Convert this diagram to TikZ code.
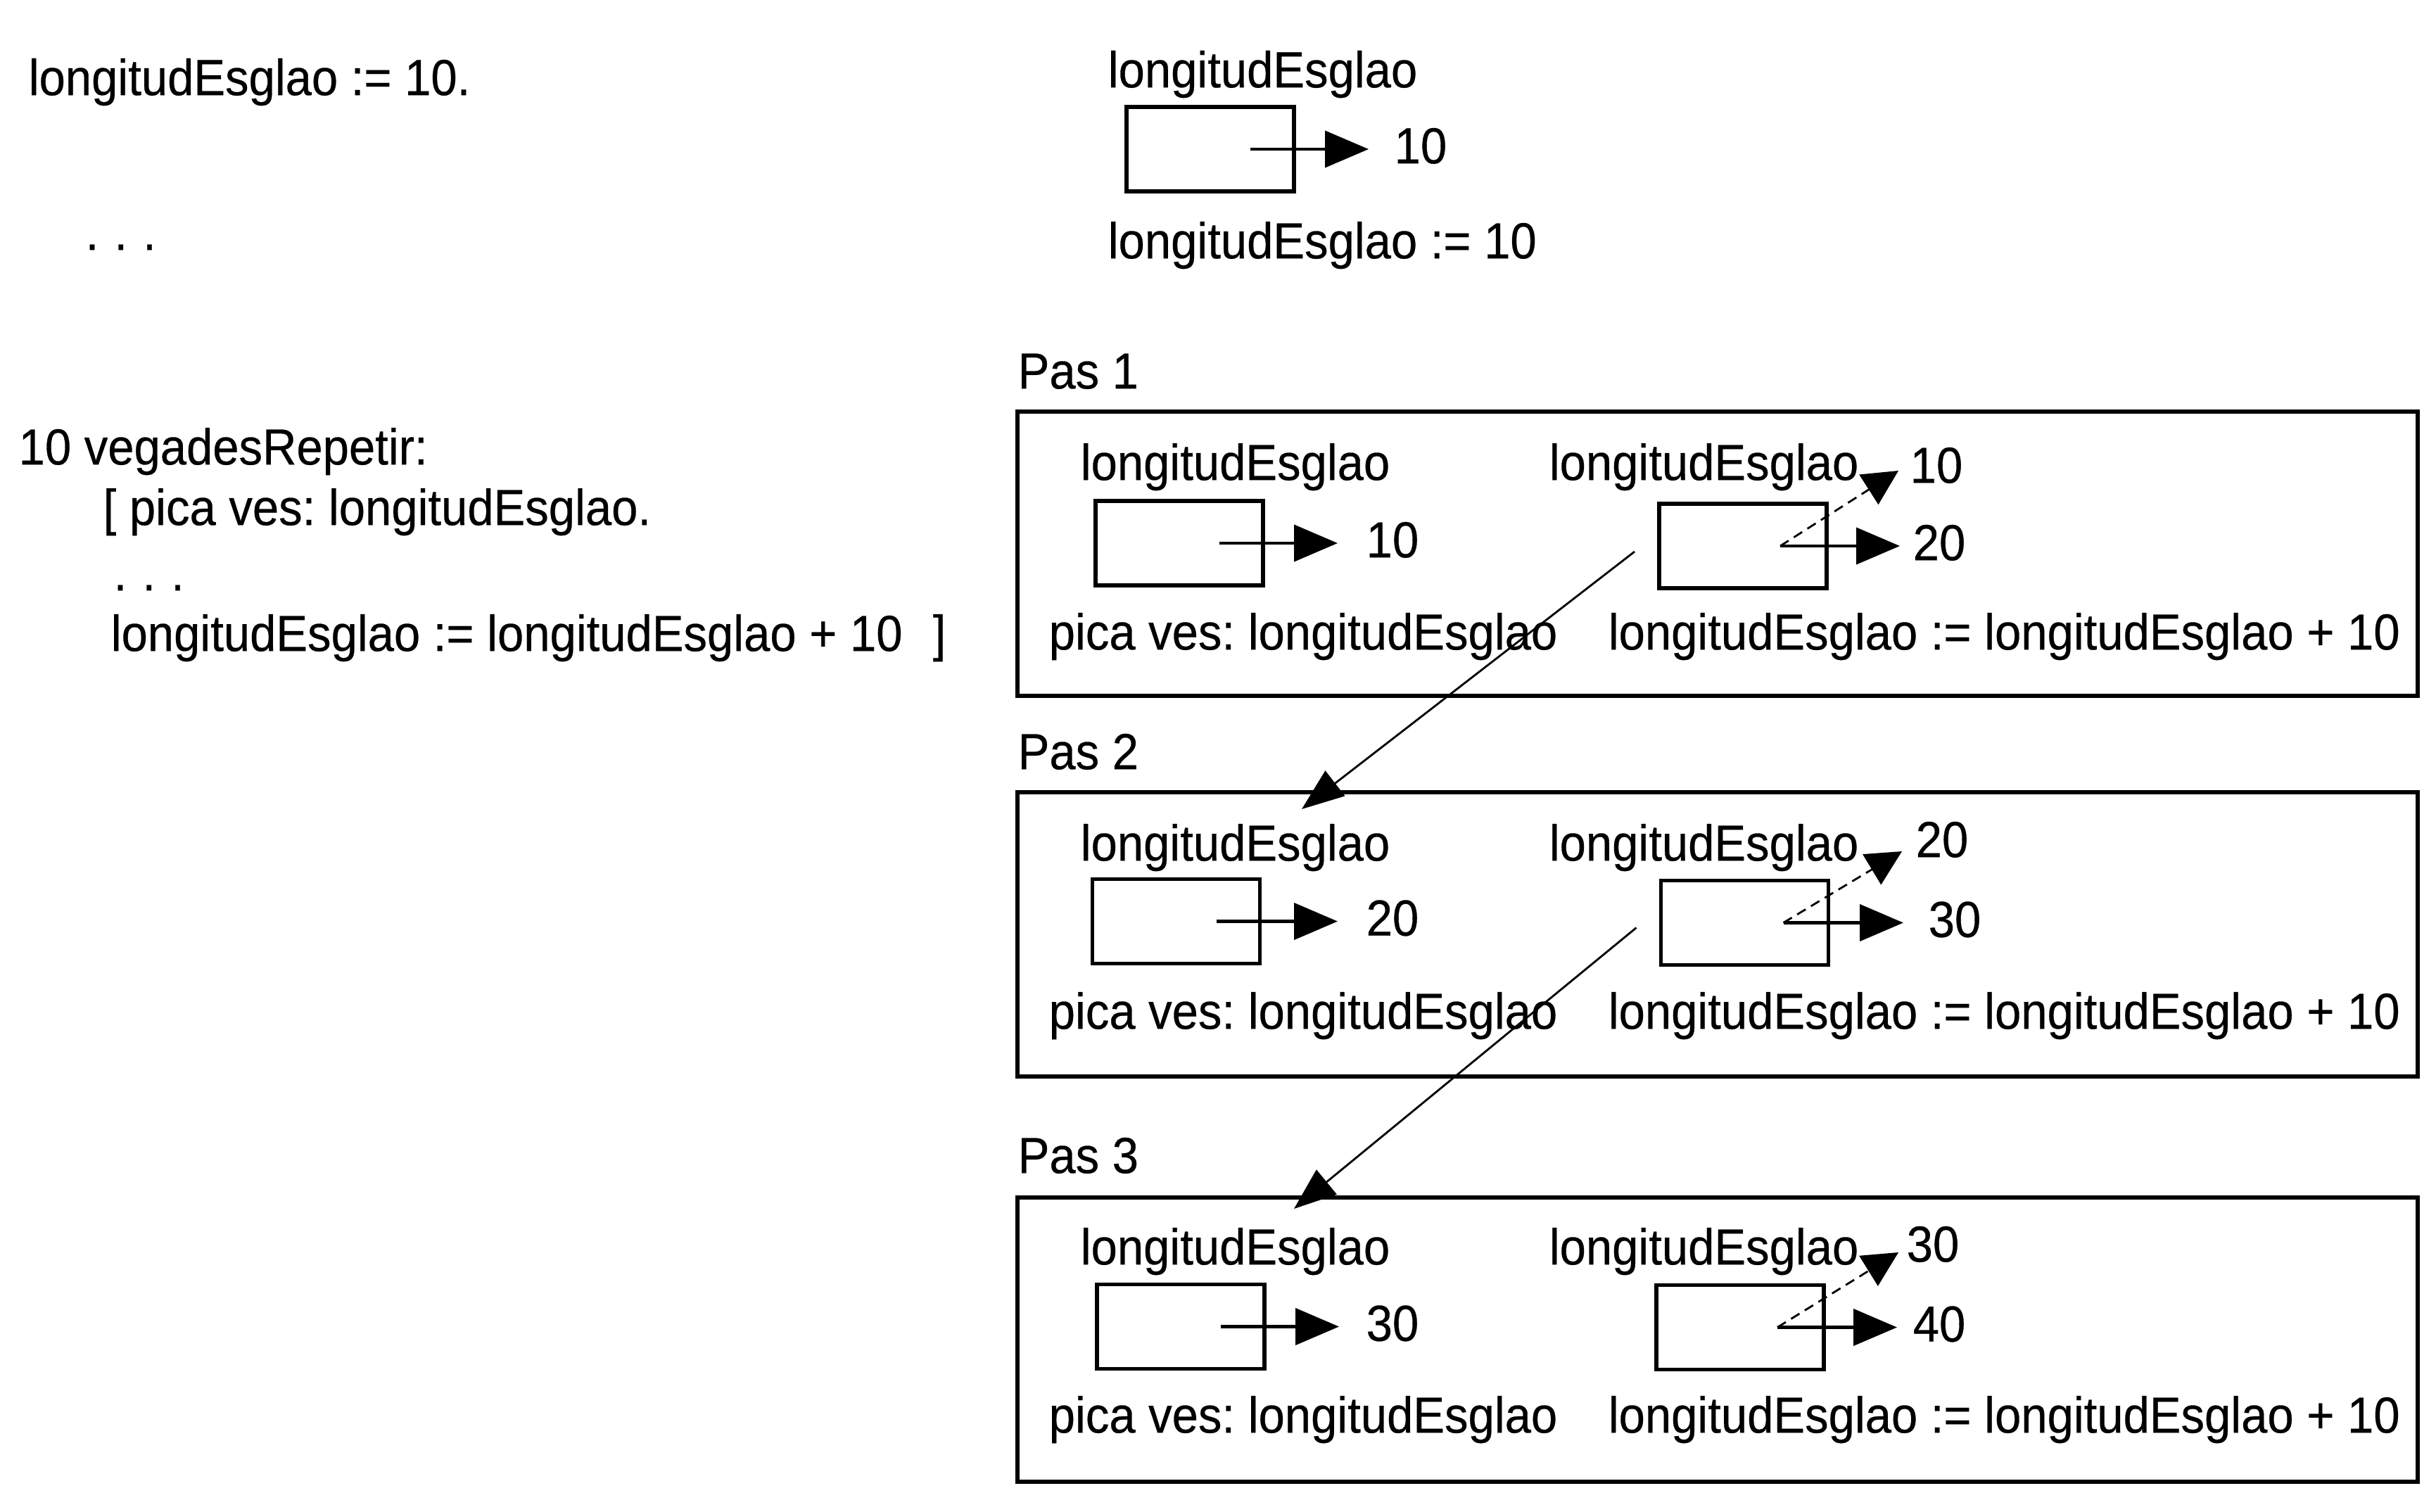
\documentclass[tikz,border=0pt]{standalone}
\usepackage{fontspec}
\setmainfont{Liberation Sans}[FakeStretch=0.93,FakeBold=0.4]
\usetikzlibrary{arrows.meta}
\newcommand{\tdots}{.\hspace{6.3pt}.\hspace{6.3pt}.}
\frenchspacing
\begin{document}
\begin{tikzpicture}[
 txt/.style={anchor=west, inner sep=0pt, font=\fontsize{20.5}{24}\selectfont\frenchspacing, text height=1.35em, text depth=0.2em},
 cell/.style={draw, line width=1.5pt, minimum width=2.38cm, minimum height=1.2cm, inner sep=0pt, outer sep=0pt},
 frame/.style={draw, line width=1.5pt, anchor=north west, minimum width=19.9cm, minimum height=4.04cm, inner sep=0pt, outer sep=0pt},
 ptr/.style={line width=1.2pt, -{Triangle[length=0.62cm,width=0.52cm]}},
 old/.style={line width=0.8pt, dash pattern=on 4pt off 2.5pt, -{Triangle[length=0.5cm,width=0.5cm]}},
 flow/.style={line width=0.8pt, -{Triangle[length=0.6cm,width=0.45cm]}}
]
\useasboundingbox (0,0) rectangle (34.62,-21.48);

% left code
\node[txt] (c1) at (0.40,-1.15) {longitudEsglao := 10.};
\node[txt] (c2) at (1.21,-3.35) {\tdots};
\node[txt] (c3) at (0.26,-6.40) {10 vegadesRepetir:};
\node[txt] (c4) at (1.46,-7.26) {[ pica ves: longitudEsglao.};
\node[txt] (c5) at (1.61,-8.19) {\tdots};
\node[txt] (c6) at (1.57,-9.05) {longitudEsglao := longitudEsglao + 10\hspace{0.6em}]};

% top
\node[txt] (t0) at (15.74,-1.04) {longitudEsglao};
\node[cell] (b0) at (17.20,-2.12) {};
\node[txt] (v0) at (19.81,-2.12) {10};
\draw[ptr] ([xshift=0.57cm]b0.center) -- ([xshift=-0.36cm]v0.west);
\node[txt] (t0b) at (15.74,-3.47) {longitudEsglao := 10};

% Pas 1
\node[txt] (p1) at (14.46,-5.32) {Pas 1};
\node[frame] (f1) at (14.46,-5.85) {};
\node[txt] (l1) at (15.35,-6.62) {longitudEsglao};
\node[cell] (a1) at (16.76,-7.72) {};
\node[txt] (av1) at (19.41,-7.72) {10};
\draw[ptr] ([xshift=0.57cm]a1.center) -- ([xshift=-0.40cm]av1.west);
\node[txt] (s1) at (14.90,-9.03) {pica ves: longitudEsglao};
\node[txt] (r1) at (22.01,-6.62) {longitudEsglao};
\node[cell] (c1b) at (24.77,-7.76) {};
\node[txt] (o1) at (27.14,-6.66) {10};
\node[txt] (n1) at (27.18,-7.76) {20};
\draw[ptr] ([xshift=0.53cm]c1b.center) -- ([xshift=-0.18cm]n1.west);
\draw[old] ([xshift=0.53cm]c1b.center) -- ([xshift=-0.16cm,yshift=-0.03cm]o1.west);
\node[txt] (e1) at (22.85,-9.03) {longitudEsglao := longitudEsglao + 10};

% Pas 2
\node[txt] (p2) at (14.46,-10.73) {Pas 2};
\node[frame] (f2) at (14.46,-11.26) {};
\node[txt] (l2) at (15.35,-12.03) {longitudEsglao};
\node[cell] (a2) at (16.715,-13.095) {};
\node[txt] (av2) at (19.41,-13.095) {20};
\draw[ptr] ([xshift=0.57cm]a2.center) -- ([xshift=-0.40cm]av2.west);
\node[txt] (s2) at (14.90,-14.42) {pica ves: longitudEsglao};
\node[txt] (r2) at (22.01,-12.03) {longitudEsglao};
\node[cell] (c2b) at (24.795,-13.115) {};
\node[txt] (o2) at (27.22,-11.98) {20};
\node[txt] (n2) at (27.40,-13.115) {30};
\draw[ptr] ([xshift=0.55cm]c2b.center) -- ([xshift=-0.35cm]n2.west);
\draw[old] ([xshift=0.55cm]c2b.center) -- ([xshift=-0.19cm,yshift=-0.12cm]o2.west);
\node[txt] (e2) at (22.85,-14.42) {longitudEsglao := longitudEsglao + 10};

% Pas 3
\node[txt] (p3) at (14.46,-16.47) {Pas 3};
\node[frame] (f3) at (14.46,-17.02) {};
\node[txt] (l3) at (15.35,-17.77) {longitudEsglao};
\node[cell] (a3) at (16.78,-18.855) {};
\node[txt] (av3) at (19.41,-18.855) {30};
\draw[ptr] ([xshift=0.57cm]a3.center) -- ([xshift=-0.38cm]av3.west);
\node[txt] (s3) at (14.90,-20.16) {pica ves: longitudEsglao};
\node[txt] (r3) at (22.01,-17.77) {longitudEsglao};
\node[cell] (c3b) at (24.73,-18.865) {};
\node[txt] (o3) at (27.09,-17.73) {30};
\node[txt] (n3) at (27.18,-18.865) {40};
\draw[ptr] ([xshift=0.53cm]c3b.center) -- ([xshift=-0.22cm]n3.west);
\draw[old] ([xshift=0.53cm]c3b.center) -- ([xshift=-0.11cm,yshift=-0.07cm]o3.west);
\node[txt] (e3) at (22.85,-20.16) {longitudEsglao := longitudEsglao + 10};

% flow between steps
\draw[flow] ([xshift=-0.35cm,yshift=-0.08cm]c1b.west) -- ([xshift=4.04cm,yshift=-0.24cm]f2.north west);
\draw[flow] ([xshift=-0.35cm,yshift=-0.07cm]c2b.west) -- ([xshift=3.93cm,yshift=-0.16cm]f3.north west);
\end{tikzpicture}
\end{document}
